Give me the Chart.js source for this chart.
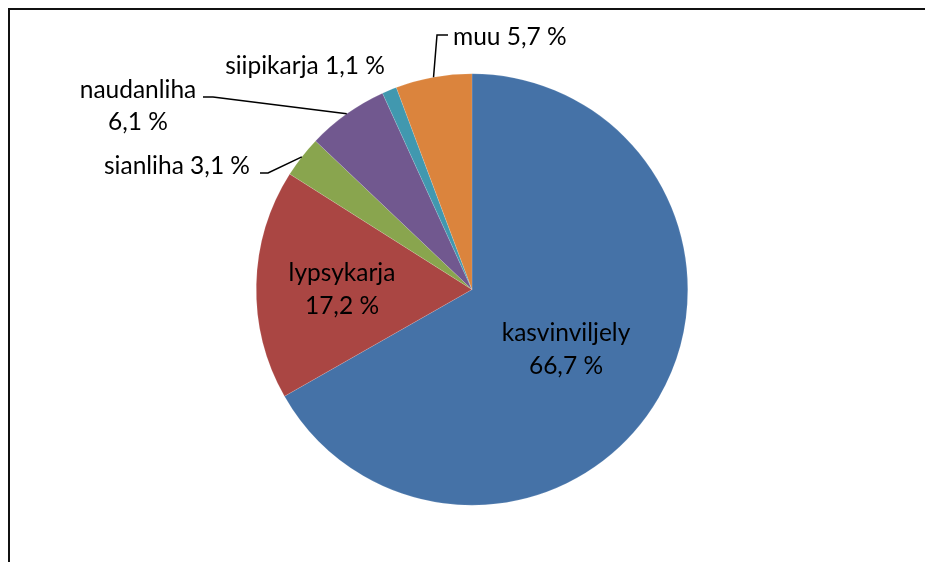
<!DOCTYPE html>
<html>
<head>
<meta charset="utf-8">
<script src="https://cdn.jsdelivr.net/npm/chart.js@4.4.1/dist/chart.umd.min.js"></script>
<style>
  html, body { margin: 0; padding: 0; background: #fff; }
  #wrap { width: 925px; height: 562px; position: relative; }
</style>
</head>
<body>
<div id="wrap"><canvas id="pieChart"></canvas></div>
<script>
// data
var categories = ["kasvinviljely", "lypsykarja", "sianliha", "naudanliha", "siipikarja", "muu"];
var shares = [66.7, 17.2, 3.1, 6.1, 1.1, 5.7];
var sliceColors = ["#4572A7", "#AA4643", "#89A54E", "#71588F", "#4198AF", "#DB843D"];

// label placement (text only, slices come from the chart)
var labelLayout = [
    { inside: true, x: 566, y: 333, lines: 2 },
    { inside: true, x: 342, y: 273, lines: 2 },
    { x: 250, y: 166, align: "right", lines: 1, elbow: [268, 173], tail: 260 },
    { x: 138, y: 90, align: "center", lines: 2, elbow: [213, 97], tail: 203 },
    { x: 305, y: 66, align: "center", lines: 1 },
    { x: 453, y: 37, align: "left", lines: 1, elbow: [437, 35], tail: 448 }
];

var FONT = "24.5px Lato";

function pct(v) {
    return v.toFixed(1).replace(".", ",") + " %";
}

var framePlugin = {
    id: "frame",
    beforeDraw: function (chart) {
        var ctx = chart.ctx;
        ctx.save();
        ctx.strokeStyle = "#111";
        ctx.lineWidth = 2;
        ctx.beginPath();
        ctx.moveTo(925, 9);
        ctx.lineTo(9, 9);
        ctx.lineTo(9, 562);
        ctx.stroke();
        ctx.restore();
    }
};

var labelPlugin = {
    id: "sliceLabels",
    afterDatasetsDraw: function (chart) {
        var ctx = chart.ctx;
        var arcs = chart.getDatasetMeta(0).data;
        ctx.save();
        ctx.font = FONT;
        ctx.fillStyle = "#000";
        ctx.textBaseline = "middle";
        arcs.forEach(function (arc, i) {
            var lay = labelLayout[i];
            var name = categories[i];
            var val = pct(shares[i]);
            if (lay.elbow) {
                // leader starts on the rim at the slice's middle angle
                var mid = (arc.startAngle + arc.endAngle) / 2;
                var ex = arc.x + Math.cos(mid) * arc.outerRadius;
                var ey = arc.y + Math.sin(mid) * arc.outerRadius;
                ctx.strokeStyle = "#000";
                ctx.lineWidth = 1.5;
                ctx.beginPath();
                ctx.moveTo(ex, ey);
                ctx.lineTo(lay.elbow[0], lay.elbow[1]);
                ctx.lineTo(lay.tail, lay.elbow[1]);
                ctx.stroke();
            }
            if (lay.inside) {
                ctx.textAlign = "center";
                ctx.fillText(name, lay.x, lay.y);
                ctx.fillText(val, lay.x, lay.y + 33);
            } else if (lay.lines === 2) {
                ctx.textAlign = lay.align;
                ctx.fillText(name, lay.x, lay.y);
                ctx.fillText(val, lay.x, lay.y + 32);
            } else {
                ctx.textAlign = lay.align;
                ctx.fillText(name + " " + val, lay.x, lay.y);
            }
        });
        ctx.restore();
    }
};

var pieCtx = document.getElementById("pieChart").getContext("2d");
var pieChart = new Chart(pieCtx, {
    type: "pie",
    data: {
        labels: categories,
        datasets: [{
            data: shares,
            backgroundColor: sliceColors,
            borderColor: "rgba(255,255,255,0.25)",
            borderWidth: 0.5
        }]
    },
    options: {
        responsive: true,
        maintainAspectRatio: false,
        animation: false,
        layout: {
            padding: { left: 256, right: 237, top: 73.5, bottom: 56.5 }
        },
        plugins: {
            legend: { display: false },
            tooltip: { enabled: false }
        }
    },
    plugins: [framePlugin, labelPlugin]
});
</script>
</body>
</html>
